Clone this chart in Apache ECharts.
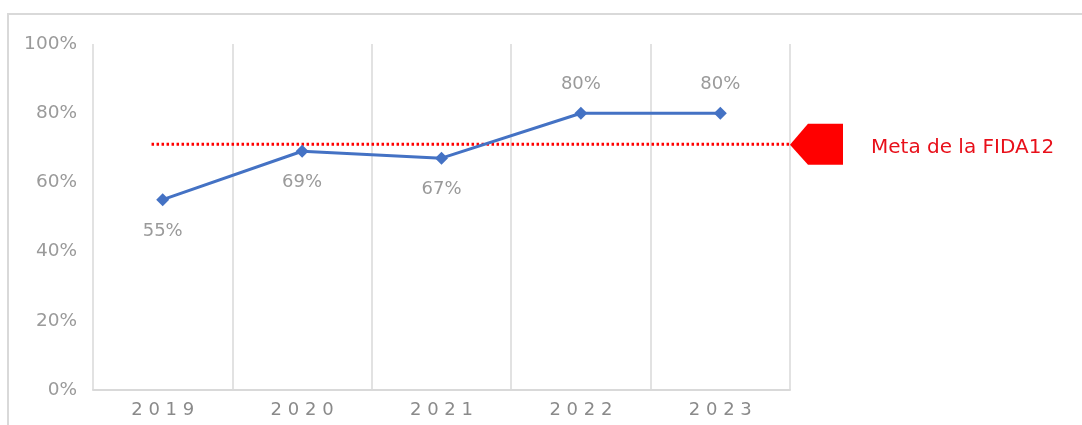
<!DOCTYPE html>
<html>
<head>
<meta charset="utf-8">
<script src="https://cdn.jsdelivr.net/npm/echarts@6/dist/echarts.min.js"></script>
<style>
  html, body { margin: 0; padding: 0; background: #fff; overflow: hidden; }
  #chart { width: 1082px; height: 425px; }
</style>
</head>
<body>
<div id="chart"></div>
<script>
// ---- data ----
const years = ['2019', '2020', '2021', '2022', '2023'];
const rates = [55, 69, 67, 80, 80];
const labelSides = ['bottom', 'bottom', 'bottom', 'top', 'top'];
const yTicks = [0, 20, 40, 60, 80, 100];
const goalValue = 71;
const goalSpan = [-0.08, 4.5];     // in category-index units
const goalMarkerAt = 4.69;
const goalText = 'Meta de la FIDA12';

const chart = echarts.init(document.getElementById('chart'), null, { renderer: 'canvas' });
const grayText = '#9a9a9a';
const font = 'DejaVu Sans';

chart.setOption({
  backgroundColor: '#fff',
  animation: false,
  graphic: [{
    type: 'polyline', silent: true, z: -1,
    shape: { points: [[8, 430], [8, 14], [1090, 14]] },
    style: { stroke: '#d9d9d9', lineWidth: 2, fill: null }
  }],
  grid: { left: 93, right: 292, top: 44, bottom: 35, containLabel: false },
  xAxis: [{
    type: 'category',
    data: years,
    boundaryGap: true,
    axisLine: { show: true, lineStyle: { color: '#d9d9d9', width: 2 } },
    axisTick: { show: false },
    splitLine: { show: true, lineStyle: { color: '#d9d9d9', width: 1.5 } },
    axisLabel: {
      color: '#8a8a8a', fontFamily: font, fontSize: 18, margin: 11,
      formatter: v => v.split('').join(' ')
    }
  }, {
    type: 'value', min: -0.5, max: 4.5, show: false
  }],
  yAxis: {
    type: 'value', min: yTicks[0], max: yTicks[yTicks.length - 1], interval: 20,
    axisLine: { show: false }, axisTick: { show: false }, splitLine: { show: false },
    axisLabel: { color: grayText, fontFamily: font, fontSize: 18.5, margin: 16, formatter: '{value}%' }
  },
  series: [{
    type: 'line',
    name: 'rate',
    data: rates.map((v, i) => ({
      value: v,
      label: { position: labelSides[i], distance: labelSides[i] === 'top' ? 13 : 16 }
    })),
    symbol: 'diamond', symbolSize: 13,
    itemStyle: { color: '#4472c4' },
    lineStyle: { color: '#4472c4', width: 3 },
    label: { show: true, color: grayText, fontFamily: font, fontSize: 18, formatter: '{c}%' },
    z: 5
  }, {
    type: 'line',
    name: 'goal',
    xAxisIndex: 1,
    data: [[goalSpan[0], goalValue], [goalSpan[1], goalValue]],
    symbol: 'none',
    lineStyle: { color: '#ff0000', width: 3, type: [2.5, 2.5] },
    z: 4
  }, {
    type: 'scatter',
    name: 'goalMarker',
    xAxisIndex: 1,
    clip: false,
    data: [[goalMarkerAt, goalValue]],
    symbol: 'path://M0,21 L18,0 L53,0 L53,41 L18,41 Z',
    symbolSize: [53, 41],
    itemStyle: { color: '#ff0000', opacity: 1 },
    label: {
      show: true, position: 'right', distance: 28, offset: [0, 3],
      formatter: goalText, color: '#e8101a', fontFamily: font, fontSize: 20
    }
  }]
});
</script>
</body>
</html>
